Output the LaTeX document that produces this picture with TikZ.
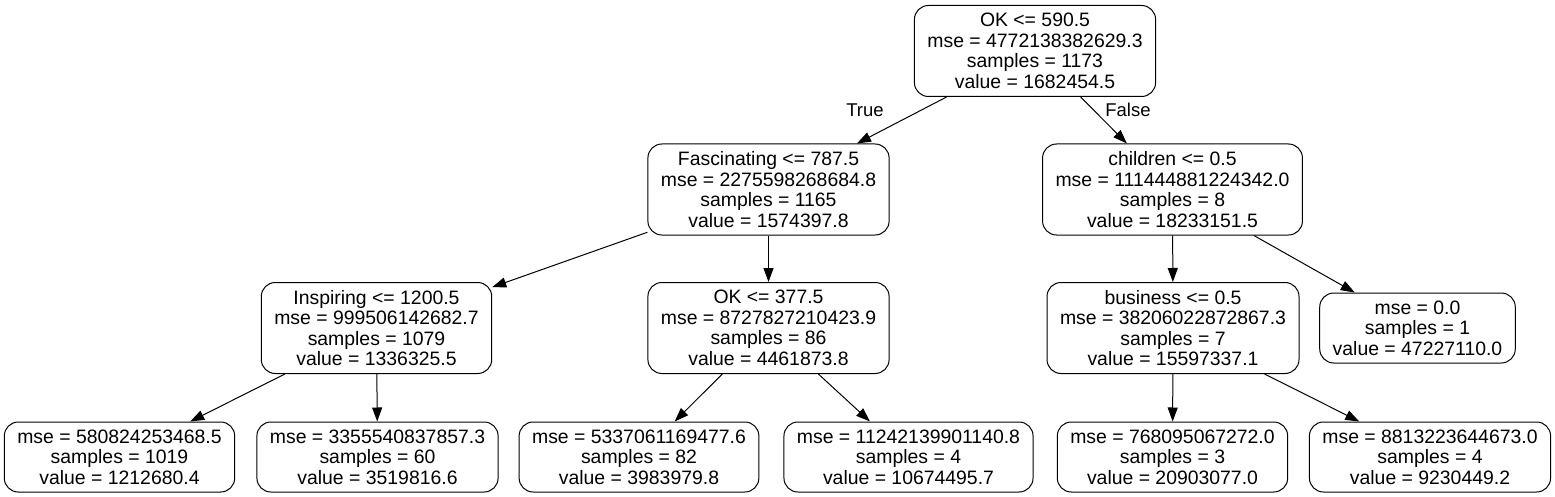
\documentclass[tikz,border=0pt]{standalone}
\usepackage{fontspec}
\setmainfont{Liberation Sans}
\usetikzlibrary{arrows.meta}
\tikzset{
  treenode/.style={draw, line width=1pt, rounded corners=14pt, align=center,
    inner xsep=13pt, inner ysep=4pt, minimum height=91pt,
    font=\fontsize{19.4}{20.5}\selectfont},
  leafnode/.style={treenode, minimum height=70pt},
  edgelabel/.style={inner sep=0pt, font=\fontsize{18.5}{20.5}\selectfont},
}
\begin{document}
\begin{tikzpicture}[x=1pt, y=-1pt]
      \useasboundingbox (0,0) rectangle (1555,497);
      \draw
        (1035,51) node[treenode] (0){OK <= 590.5\\mse = 4772138382629.3\\samples = 1173\\value = 1682454.5}
        (768.5,189.5) node[treenode] (1){Fascinating <= 787.5\\mse = 2275598268684.8\\samples = 1165\\value = 1574397.8}
        (376.5,328) node[treenode] (2){Inspiring <= 1200.5\\mse = 999506142682.7\\samples = 1079\\value = 1336325.5}
        (119.5,457) node[leafnode] (3){mse = 580824253468.5\\samples = 1019\\value = 1212680.4}
        (377.5,457) node[leafnode] (4){mse = 3355540837857.3\\samples = 60\\value = 3519816.6}
        (768.5,328) node[treenode] (5){OK <= 377.5\\mse = 8727827210423.9\\samples = 86\\value = 4461873.8}
        (639,457) node[leafnode] (6){mse = 5337061169477.6\\samples = 82\\value = 3983979.8}
        (908.5,457) node[leafnode] (7){mse = 11242139901140.8\\samples = 4\\value = 10674495.7}
        (1172.5,189.5) node[treenode] (8){children <= 0.5\\mse = 111444881224342.0\\samples = 8\\value = 18233151.5}
        (1173,328) node[treenode] (9){business <= 0.5\\mse = 38206022872867.3\\samples = 7\\value = 15597337.1}
        (1172.5,457) node[leafnode] (10){mse = 768095067272.0\\samples = 3\\value = 20903077.0}
        (1430,457) node[leafnode] (11){mse = 8813223644673.0\\samples = 4\\value = 9230449.2}
        (1417.5,328) node[leafnode] (12){mse = 0.0\\samples = 1\\value = 47227110.0};
      \node[edgelabel] (true) at (865,110) {True};
      \node[edgelabel] (false) at (1128,110) {False};
      \begin{scope}[line width=1pt, -{Triangle[length=14pt,width=10pt]}]
        \draw (0) to (1);
        \draw (0) to (8);
        \draw (1) to (2);
        \draw (1) to (5);
        \draw (2) to (3);
        \draw (2) to (4);
        \draw (5) to (6);
        \draw (5) to (7);
        \draw (8) to (9);
        \draw (8) to (12);
        \draw (9) to (10);
        \draw (9) to (11);
      \end{scope}
    \end{tikzpicture}
\end{document}
